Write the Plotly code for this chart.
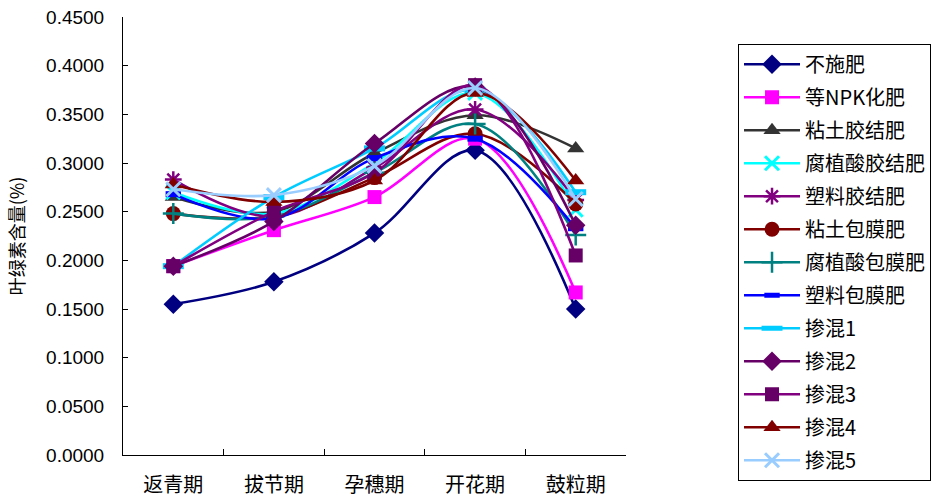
import plotly.graph_objects as go

# Growth stages on the x axis
stages = ["返青期", "拔节期", "孕穗期", "开花期", "鼓粒期"]

# Chlorophyll content (%) for each fertilizer treatment
no_fert = [0.155, 0.178, 0.228, 0.313, 0.150]
npk = [0.194, 0.231, 0.265, 0.325, 0.167]
clay_bonded = [0.265, 0.250, 0.310, 0.349, 0.315]
humic_bonded = [0.270, 0.248, 0.300, 0.372, 0.252]
plastic_bonded = [0.283, 0.245, 0.295, 0.355, 0.262]
clay_coated = [0.248, 0.245, 0.285, 0.330, 0.258]
humic_coated = [0.248, 0.245, 0.290, 0.340, 0.226]
plastic_coated = [0.268, 0.243, 0.305, 0.325, 0.233]
blend1 = [0.194, 0.265, 0.315, 0.375, 0.270]
blend2 = [0.194, 0.240, 0.320, 0.378, 0.236]
blend3 = [0.194, 0.250, 0.290, 0.380, 0.205]
blend4 = [0.278, 0.260, 0.282, 0.372, 0.282]
blend5 = [0.273, 0.267, 0.297, 0.377, 0.263]

series_names = ["不施肥", "等NPK化肥", "粘土胶结肥", "腐植酸胶结肥", "塑料胶结肥",
                "粘土包膜肥", "腐植酸包膜肥", "塑料包膜肥", "掺混1", "掺混2",
                "掺混3", "掺混4", "掺混5"]
series_values = [no_fert, npk, clay_bonded, humic_bonded, plastic_bonded,
                 clay_coated, humic_coated, plastic_coated, blend1, blend2,
                 blend3, blend4, blend5]

# (line colour, marker colour, symbol, marker size, marker outline width)
styles = [
    ("#000080", "#000080", "diamond", 15, 0),
    ("#FF00FF", "#FF00FF", "square", 14, 0),
    ("#333333", "#333333", "triangle-up", 15, 0),
    ("#00FFFF", "#00FFFF", "x-thin", 14, 3),
    ("#800080", "#800080", "asterisk", 14, 2.5),
    ("#800000", "#800000", "circle", 15, 0),
    ("#008080", "#008080", "cross-thin", 15, 2.5),
    ("#0000FF", "#0000FF", "line-ew", 11, 6),
    ("#00CCFF", "#00CCFF", "line-ew", 15, 6),
    ("#660066", "#660066", "diamond", 15, 0),
    ("#800080", "#660066", "square", 14, 0),
    ("#800000", "#800000", "triangle-up", 15, 0),
    ("#99CCFF", "#99CCFF", "x-thin", 14, 3),
]

fig = go.Figure()
for name, vals, (lc, mc, sym, ms, mlw) in zip(series_names, series_values, styles):
    fig.add_trace(go.Scatter(
        x=stages, y=vals, name=name, legendgroup=name,
        mode="lines+markers",
        line=dict(color=lc, width=2.6, shape="spline", smoothing=1),
        marker=dict(symbol=sym, size=ms, color=mc,
                    line=dict(color=mc, width=mlw)),
    ))

cjk = "Noto Sans CJK SC"
fig.update_layout(
    width=938, height=500,
    margin=dict(l=123, r=312, t=17, b=45, autoexpand=False),
    paper_bgcolor="white", plot_bgcolor="white",
    showlegend=True,
    legend=dict(
        x=1.2227, y=0.939, xanchor="left", yanchor="top",
        bgcolor="white", bordercolor="black", borderwidth=1,
        font=dict(family=cjk, size=20, color="black"),
        tracegroupgap=4, traceorder="grouped", itemwidth=56,
    ),
    xaxis=dict(
        type="category", range=[-0.5, 4.5], automargin=False,
        showline=True, linecolor="black", linewidth=1,
        ticks="inside", tickson="boundaries", ticklen=6, tickcolor="black",
        showgrid=False, zeroline=False,
        tickfont=dict(family=cjk, size=20, color="black"),
        ticklabelstandoff=12,
    ),
    yaxis=dict(
        range=[0, 0.45], dtick=0.05, tick0=0, tickformat=".4f", automargin=False,
        showline=True, linecolor="black", linewidth=1,
        ticks="inside", ticklen=5, tickcolor="black",
        showgrid=False, zeroline=False,
        tickfont=dict(family="Liberation Sans", size=19, color="black"),
        ticklabelstandoff=14,
        title=dict(text="叶绿素含量(%)", font=dict(family=cjk, size=18, color="black"),
                   standoff=16),
    ),
)

fig.write_html("out.html")
